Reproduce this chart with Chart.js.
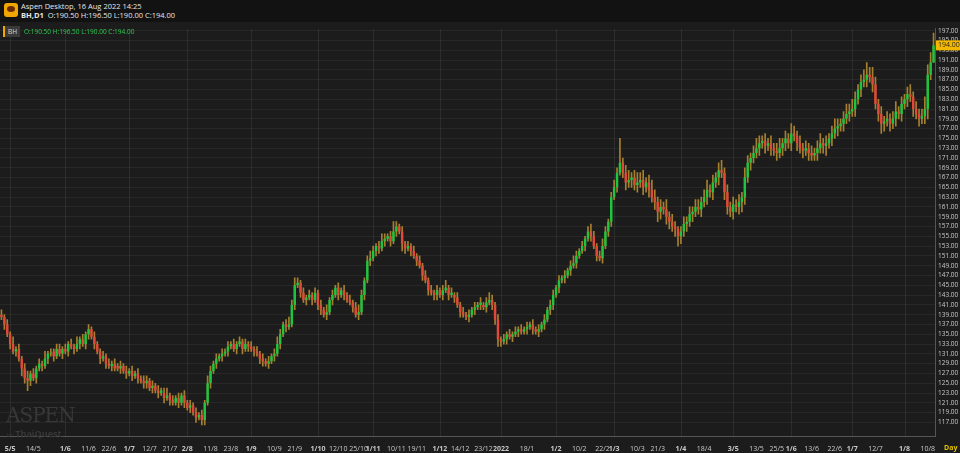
<!DOCTYPE html>
<html><head><meta charset="utf-8">
<script src="https://cdn.jsdelivr.net/npm/chart.js@4.4.0/dist/chart.umd.min.js"></script>
<style>
html,body{margin:0;padding:0;background:#1c1c1c;width:960px;height:453px;overflow:hidden;font-family:"Open Sans",sans-serif}
#hdr{position:absolute;left:0;top:0;width:960px;height:22px;background:#121212}
#icon{position:absolute;left:4px;top:3px;width:14px;height:14px;background:#f0a500;border-radius:3px}
#icon:after{content:"";position:absolute;left:3px;top:3px;width:8px;height:6px;background:#6b2a00;border-radius:50%}
#t1{position:absolute;left:21px;top:1px;font-size:7.5px;color:#e6e6e6}
#t2{position:absolute;left:21px;top:10px;font-size:7.5px;color:#e6e6e6}
#wrap{position:absolute;left:0;top:22px;width:960px;height:431px}
#leg{position:absolute;left:3px;top:26px;font-size:6.5px;color:#2ec94f;z-index:3}
#leg span{display:inline-block;background:#3a3a3a;color:#ddd;padding:1px 3px;border-left:2px solid #f0a500;margin-right:4px}
#wm{position:absolute;left:6px;top:403px;font-family:"DejaVu Serif",serif;font-size:20px;letter-spacing:-1px;color:#383838;z-index:3}
#wm2{position:absolute;left:7px;top:427px;font-size:9px;color:#383838;z-index:3}
#wm2 small{font-size:6px}
</style></head><body>
<div id="hdr"><div id="icon"></div><div id="t1">Aspen Desktop, 16 Aug 2022 14:25</div><div id="t2"><b>BH,D1</b>&nbsp; O:190.50 H:196.50 L:190.00 C:194.00</div></div>
<div id="leg"><span>BH</span>O:190.50 H:196.50 L:190.00 C:194.00</div>
<div id="wm">ASPEN</div><div id="wm2"><small>by </small><b>ThaiQuest</b></div>
<div id="wrap"><canvas id="c" width="960" height="431"></canvas></div>
<script>
const closes=[138.5,137,135,133,131.5,132,130,128,126,125.5,
127,126,128,129,128.5,130,131,131,130.5,132,
131,132,131.5,133,132.5,132,133,134,133,135,
136,134.5,133,131.5,130,130.5,129,128.5,129,128,
128,128.5,127.5,127,127.5,126.5,127,126,125.5,125,
125.5,124,124.5,123.5,123,123.5,122,122.5,121.5,121,
122,121,122.5,121,120,120.5,119,118,118.5,117.5,
121,125,127.5,129,130,130.5,131,131.5,132.5,133,
132,133,133.5,132,133,132.5,132,131.5,131,130,
129.5,129,129.5,130.5,131,133,135,137,136.5,137,
141,145,145.5,143.5,142,142.5,143,142,143.5,141,
140,139,139.5,142,143,144.5,143,144,143,142,
141.5,140.5,139,139.5,143,146,150,150.5,152,153,
152.5,154,154.5,155,154,156,157,156,153.5,152.5,
153,152,151,150,149,147,146,144,143.5,143,
144,143,144,144.5,143,143.5,142.5,141,139.5,139,
138.5,139,140,140.5,141,141.5,140.5,141.5,142,141,
138,134,133.5,134,135,134.5,135,135.5,136,135.5,
136,136.5,137,136,135.5,136,137,138,140,141,
143,144.5,146,146.5,147,148,149,149.5,151,152,
153,154.5,156,155,153,151,150.5,153,156,158,
163,165,168,170,168,166,166.5,167,165.5,166,
166.5,165,166,164.5,163,162,160,161,160.5,159,
158,157,156.5,155,156,157.5,158,159.5,160,161,
160.5,162,163,164.5,164,166,167,168.5,168,164,
161,160,161.5,161,162,163,167,170,171,172,
173,174,174.5,173.5,174,173,172.5,172,173,174,
175,174,176,175.5,174,173,172.5,173,172,171.5,
172,173,174,173.5,174,175,176,177,177.5,178,
179,180,180.5,181,183,185,186.5,187,188,187.5,
186,182,180,178,178.5,179,178,179,180.5,180,
182,183,184,183.5,181,180,179,179.5,181,188,
190.5,194];
const opens=[139,138.5,137,135,133,131.5,132,130,128,126,
125.5,127,126,128,129,128.5,130,131,131.5,130.5,
132,131,132,131.5,133,132.5,132,133,134,133,
135,136,134.5,133,131.5,130,130.5,129,128.5,129,
128.5,128,128.5,127.5,127,127.5,126.5,127,126,125.5,
125,125.5,124,124.5,123.5,123,123,122,122.5,121.5,
121,122,121,122.5,121,120,120.5,119,118,118.5,
117.5,121,125,127.5,129,130,130.5,131,131.5,132.5,
133,132,133,133.5,132,133,132.5,132,131.5,131,
130,129.5,129,129.5,130.5,131,133,135,137,136.5,
137,141,145,145.5,143.5,142,142.5,143,142,143.5,
141,140,139,139.5,142,143,144.5,143,144,143,
142,141.5,140.5,139,139.5,143,146,150,150.5,152,
153,152.5,154,154.5,155,154,156,157,156,153.5,
152.5,153,152,151,150,149,147,146,144,143.5,
143,144,143,144,144.5,143,143,142.5,141,139.5,
139,138.5,139,140,140.5,141,141,140.5,141.5,142,
141,138,134,133.5,134,135,134.5,135,135.5,136,
135.5,136,136.5,137,136,135.5,136,137,138,140,
141,143,144.5,146,146.5,147,148,149,149.5,151,
152,153,154.5,156,155,153,151,150.5,153,156,
158,163,165,168,170,168,166,166.5,167,165.5,
166,166.5,165,166,164.5,163,162,160,161,160.5,
159,158,157,156.5,155,156,157.5,158,159.5,160,
161,160.5,162,163,164.5,164,166,167,168.5,168,
164,161,160,161.5,161,162,163,167,170,171,
172,173,174,174.5,173.5,174,173,172.5,172,173,
174,175,174,176,175.5,174,173,172.5,173,172,
171.5,172,173,174,173.5,174,175,176,177,177.5,
178,179,180,180.5,181,183,185,186.5,187,188,
187.5,186,182,180,178,178.5,179,178,179,180.5,
180,182,183,184,183.5,181,180,179,179.5,181,
188,190.5];
const wickUp=[2,1,2,1,3,1,2,1,2,3, 1,2,1,2,1,3,1,2,1,2, 2,1,2,1,2,1,3,1,2,1, 2,1,2,1,1,2,1,2,1,2,
1,2,1,2,1,2,1,2,1,2, 2,1,2,1,2,1,2,3,1,2, 1,2,1,2,1,2,1,2,1,2, 1,3,2,1,2,1,2,1,2,1,
2,1,2,1,2,1,2,1,2,1, 2,1,2,1,2,3,2,1,2,3, 2,3,2,1,2,1,2,1,2,1, 2,1,3,1,2,1,2,1,2,1,
2,1,2,3,2,1,2,3,2,1, 2,3,2,1,2,4,2,1,2,1, 2,1,2,1,2,1,2,1,2,1, 2,1,2,3,1,2,1,2,1,2,
1,2,1,2,1,2,1,2,3,2, 1,2,1,2,1,2,1,2,1,2, 1,2,1,2,1,2,1,2,1,2, 2,1,2,1,2,1,2,3,2,1,
2,1,2,3,2,1,2,3,2,1, 2,3,2,10,2,3,4,2,3,4, 3,4,2,3,4,3,2,3,2,4, 2,3,2,1,2,3,2,3,2,3,
3,2,3,4,2,3,2,3,4,2, 3,2,3,2,3,2,4,3,2,3, 4,3,2,3,2,3,2,3,4,2, 3,2,4,3,2,3,2,3,2,3,
2,3,4,2,3,2,3,4,3,2, 3,4,3,4,3,2,3,4,5,3, 4,3,2,3,2,3,2,3,4,2, 3,2,3,4,2,3,2,3,5,4, 4,5];
const wickDown=[1,2,1,2,1,2,1,3,2,4, 2,1,2,1,2,1,2,1,2,1, 1,2,1,2,1,2,1,2,1,2, 2,1,2,1,2,1,2,1,2,1,
1,2,1,2,1,2,1,2,1,2, 2,1,2,1,2,1,2,1,2,1, 1,2,1,2,1,2,1,2,1,2, 2,1,2,1,2,1,2,1,2,1,
1,2,1,2,1,2,1,2,1,2, 2,1,2,1,2,1,2,1,2,1, 1,2,1,2,1,2,1,2,1,2, 2,1,2,1,2,1,2,1,2,1,
1,2,1,2,1,2,1,2,1,2, 2,1,2,1,2,1,2,1,3,2, 1,2,1,2,1,2,1,2,1,2, 2,1,2,1,2,1,2,1,2,1,
1,2,1,2,1,2,1,2,1,2, 2,3,2,1,2,1,2,1,2,1, 1,2,1,2,1,2,1,2,1,2, 2,1,2,1,2,1,2,1,2,1,
1,2,1,2,1,2,1,2,1,2, 2,1,2,1,2,3,2,3,2,3, 2,3,2,3,2,3,4,3,2,3, 3,2,3,4,3,2,3,2,3,2,
2,3,2,3,2,3,2,3,2,3, 3,2,3,2,3,4,3,2,3,2, 2,3,2,3,2,3,2,3,2,3, 3,2,3,2,3,2,3,2,3,2,
2,3,2,3,4,2,3,2,3,2, 3,2,3,2,3,2,3,2,3,2, 3,2,3,4,3,2,3,2,3,2, 3,2,3,2,3,2,3,2,3,4, 2,0];
const tickIdx=[3,11,22,30,37,44,51,58,64,72,79,86,94,101,109,116,123,128,136,143,151,158,166,172,181,191,199,207,211,219,226,234,242,252,260,267,272,279,287,293,301,311,319];
const tickText=["5/5","14/5","1/6","11/6","22/6","1/7","12/7","21/7","2/8","11/8","23/8","1/9","10/9","21/9","1/10","12/10","25/10","1/11","10/11","19/11","1/12","14/12","23/12","2022","18/1","1/2","10/2","22/2","1/3","10/3","21/3","1/4","18/4","3/5","13/5","25/5","1/6","13/6","22/6","1/7","12/7","1/8","10/8"];
const monthTicks=["5/5","1/6","1/7","2/8","1/9","1/10","1/11","1/12","2022","1/2","1/3","1/4","3/5","1/6","1/7","1/8"];

const N=closes.length;
const labels=closes.map((_,i)=>String(i));
const tickMap={};tickIdx.forEach((k,j)=>tickMap[k]=tickText[j]);
const isMonthIdx=i=>tickMap[i]!==undefined&&monthTicks.includes(tickMap[i]);
const GREEN='#1fc43f',RED='#e2483a',WICK='#a6802e';
const bodies=closes.map((c,i)=>[opens[i],c]);
const wicks=closes.map((c,i)=>[Math.min(opens[i],c)-wickDown[i]*0.5,Math.max(opens[i],c)+wickUp[i]*0.5]);
const colors=closes.map((c,i)=>c>=opens[i]?GREEN:RED);

const extra={id:'extra',
  beforeDatasetsDraw(ch){
    const g=ch.ctx,x=ch.scales.x,a=ch.chartArea;
    g.save();g.strokeStyle='rgba(255,255,255,0.07)';g.lineWidth=1;
    tickIdx.forEach(k=>{if(isMonthIdx(k)){const px=Math.round(x.getPixelForValue(k))+0.5;g.beginPath();g.moveTo(px,a.top);g.lineTo(px,a.bottom);g.stroke();}});
    g.restore();},
  afterDraw(ch){
  const g=ch.ctx,y=ch.scales.y,a=ch.chartArea;
  const last=closes[N-1],py=y.getPixelForValue(last);
  g.save();g.fillStyle='#f5b800';g.fillRect(a.right+1,py-5,24,10);
  g.fillStyle='#222';g.font='7px "Open Sans"';g.textBaseline='middle';g.fillText(last.toFixed(2),a.right+3,py);
  g.fillStyle='#e0c000';g.font='bold 7px "Open Sans"';g.fillText('Day',a.right+9,ch.height-5);
  g.restore();}};

new Chart(document.getElementById('c'),{
  type:'bar',
  data:{labels,datasets:[
    {data:bodies,backgroundColor:colors,borderWidth:0,barPercentage:0.85,categoryPercentage:1,minBarLength:1,order:1},
    {data:wicks,backgroundColor:WICK,borderWidth:0,barThickness:1,order:2}
  ]},
  options:{responsive:false,animation:false,devicePixelRatio:1,
    layout:{padding:{top:2,left:0,right:0,bottom:0}},
    plugins:{legend:{display:false},tooltip:{enabled:false}},
    datasets:{bar:{grouped:false}},
    scales:{
      x:{offset:true,border:{color:'#555'},
        grid:{display:false},
        ticks:{autoSkip:false,maxRotation:0,minRotation:0,padding:0,color:'#c8c8c8',
          font:c=>({family:'Open Sans',size:7,weight:(c.tick&&monthTicks.includes(c.tick.label))?'bold':'normal'}),
          callback:(v,i)=>tickMap[i]!==undefined?tickMap[i]:null}},
      y:{position:'right',min:114.1,max:197.36,border:{color:'#555'},
        grid:{color:'rgba(255,255,255,0.05)',drawTicks:false},
        afterBuildTicks:s=>{const t=[];for(let v=117;v<=197;v+=2)t.push({value:v});s.ticks=t;},
        afterFit:s=>{s.width=25;},
        ticks:{autoSkip:false,color:'#c8c8c8',padding:3,font:{family:'Open Sans',size:6.5},callback:v=>Number(v).toFixed(2)}}
    }},
  plugins:[extra]
});
</script></body></html>
